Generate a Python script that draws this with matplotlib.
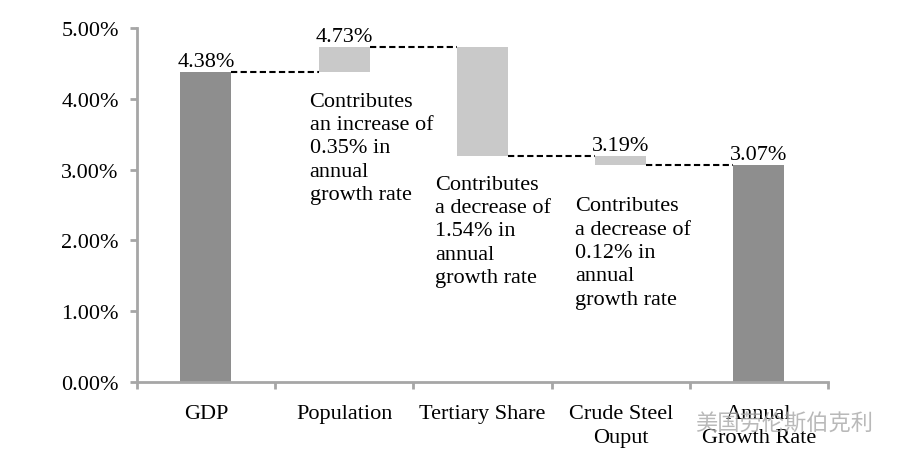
import matplotlib.pyplot as plt
from matplotlib.ticker import FuncFormatter

# data
categorias = ["GDP", "Population", "Tertiary Share", "Crude Steel\nOuput", "Annual\nGrowth Rate"]
cambios = [4.38, 0.35, -1.54, -0.12, 3.07]
es_total = [True, False, False, False, True]
etiquetas = ["4.38%", "4.73%", None, "3.19%", "3.07%"]
notas = [
    "Contributes\nan increase of\n0.35% in\nannual\ngrowth rate",
    "Contributes\na decrease of\n1.54% in\nannual\ngrowth rate",
    "Contributes\na decrease of\n0.12% in\nannual\ngrowth rate",
]

plt.rcParams['font.family'] = ['Liberation Serif', 'DejaVu Serif']

fig = plt.figure(figsize=(9, 4.64), dpi=100)
ax = fig.add_axes([0.152, 0.1746, 0.768, 0.763])

ancho = 0.37
nivel = 0
inferiores, superiores = [], []
for i, (c, total) in enumerate(zip(cambios, es_total)):
    if total:
        base, alto = 0, c
        nivel = c
        color = '#8e8e8e'
    else:
        nuevo = nivel + c
        base, alto = min(nivel, nuevo), abs(c)
        nivel = nuevo
        color = '#c9c9c9'
    ax.bar(i, alto / 100, bottom=base / 100, width=ancho, color=color, zorder=2)
    superiores.append((base + alto) / 100)
    inferiores.append(nivel / 100)

# lineas punteadas entre barras
for i in range(len(cambios) - 1):
    nivel = inferiores[i]
    ax.plot([i + ancho / 2, i + 1 - ancho / 2], [nivel, nivel], color='black',
            linestyle=(0, (3, 1.6)), linewidth=1.5, zorder=3)

for i, lab in enumerate(etiquetas):
    if lab:
        ax.text(i, superiores[i] + 0.00015, lab, ha='center', va='bottom', fontsize=16)

# notas
pos_notas = [(0.75, 0.0410), (1.66, 0.0293), (2.67, 0.0262)]
for (x, y), txt in zip(pos_notas, notas):
    ax.text(x, y, txt, ha='left', va='top', fontsize=16, linespacing=1.31)

ax.set_xlim(-0.5, len(categorias) - 0.5)
ax.set_ylim(0, 0.05)
ax.set_yticks([0, 0.01, 0.02, 0.03, 0.04, 0.05])
ax.yaxis.set_major_formatter(FuncFormatter(lambda v, p: f"{v*100:.2f}%"))
ax.set_xticks([i - 0.5 for i in range(len(categorias) + 1)])
ax.set_xticklabels([])
ax.set_xticks(range(len(categorias)), minor=True)
ax.set_xticklabels(categorias, minor=True, fontsize=16, linespacing=1.36)
ax.tick_params(axis='x', which='minor', length=0, pad=16)
ax.tick_params(axis='x', which='major', length=5, width=2, color='#a6a6a6')
ax.tick_params(axis='y', length=5, width=2, color='#a6a6a6', labelsize=16, pad=8)

for s in ['top', 'right']:
    ax.spines[s].set_visible(False)
for s in ['left', 'bottom']:
    ax.spines[s].set_color('#a6a6a6')
    ax.spines[s].set_linewidth(2)

# marca de agua
fig.text(0.772, 0.085, "美国劳伦斯伯克利", fontsize=16, color='#a8a8a8', alpha=0.8,
         family=['Noto Sans CJK SC', 'DejaVu Sans'], ha='left', va='center')

plt.savefig("out.png", dpi=100)
